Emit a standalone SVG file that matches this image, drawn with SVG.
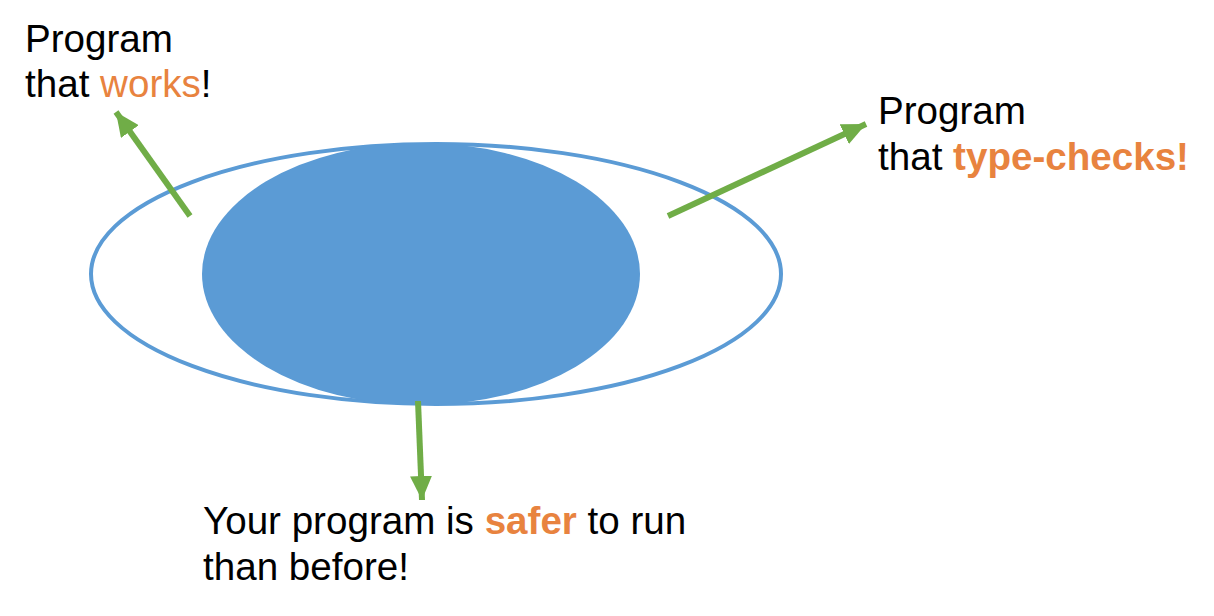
<svg xmlns="http://www.w3.org/2000/svg" width="1214" height="616" viewBox="0 0 1214 616">
<style>
.t{font-family:"Liberation Sans",Arial,sans-serif;font-size:38.6px;fill:#000}
.o{fill:#E8833F}
.b{font-weight:bold}
.c{stroke:#70AD47;stroke-width:6;fill:none}
</style>
<defs>
<marker id="ah" markerUnits="userSpaceOnUse" markerWidth="26" markerHeight="22" refX="24" refY="11" orient="auto">
<polygon points="0,0 24,11 0,22" fill="#70AD47"/>
</marker>
</defs>
<rect width="1214" height="616" fill="#fff"/>
<g id="outer"><ellipse cx="436" cy="274" rx="345" ry="130" fill="none" stroke="#5B9BD5" stroke-width="4"/></g>
<g id="inner"><ellipse cx="421" cy="274" rx="219" ry="131" fill="#5B9BD5"/></g>
<g id="connectors">
<line class="c" x1="190" y1="216" x2="116" y2="112" marker-end="url(#ah)"/>
<line class="c" x1="668" y1="216" x2="866" y2="124" marker-end="url(#ah)"/>
<line class="c" x1="418" y1="401" x2="422" y2="500" marker-end="url(#ah)"/>
</g>
<g id="works"><text class="t" x="25" y="52">Program</text><text class="t" x="25" y="97">that <tspan class="o">works</tspan>!</text></g>
<g id="typechecks"><text class="t" x="878" y="124">Program</text><text class="t" x="878" y="170">that <tspan class="o b">type-checks!</tspan></text></g>
<g id="safer"><text class="t" x="203" y="534">Your program is <tspan class="o b">safer</tspan> to run</text><text class="t" x="203" y="580">than before!</text></g>
</svg>
